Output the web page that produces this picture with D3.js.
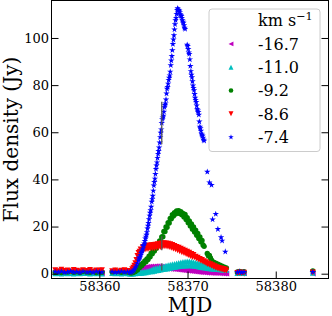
<!DOCTYPE html>
<html>
<head>
<meta charset="utf-8">
<script src="https://cdn.jsdelivr.net/npm/d3@7"></script>
<style>
  body { margin: 0; background: #fff; }
  text { font-family: "DejaVu Serif", serif; fill: #000; }
</style>
</head>
<body>
<div id="chart"></div>
<script>
// ---------------- datos ----------------
// epocas de observacion (MJD), comunes a todos los canales
const mjd = [
  58355.00, 58355.35, 58355.70, 58356.05, 58356.40, 58356.75, 58357.10, 58357.45, 58357.80, 58358.15,
  58358.60, 58358.95, 58359.30, 58359.65, 58360.00, 58360.30,
  58361.45, 58361.80, 58362.15, 58362.50, 58362.85, 58363.20, 58363.45,
  58363.60, 58363.72, 58363.84, 58363.96, 58364.08, 58364.20, 58364.32, 58364.44, 58364.56, 58364.68,
  58364.80, 58364.92, 58365.04, 58365.16, 58365.28, 58365.40, 58365.52, 58365.64, 58365.76, 58365.88,
  58366.00, 58366.12, 58366.24, 58366.36, 58366.48, 58366.60, 58366.72, 58366.84, 58366.96, 58367.08,
  58367.20, 58367.32, 58367.44, 58367.56, 58367.68, 58367.80, 58367.92, 58368.04, 58368.16, 58368.28,
  58368.40, 58368.52, 58368.64, 58368.76, 58368.88, 58369.00, 58369.12, 58369.24, 58369.36, 58369.48,
  58369.60, 58369.72, 58369.84, 58369.96, 58370.08, 58370.20, 58370.32, 58370.44, 58370.56, 58370.68,
  58370.80, 58370.92, 58371.04, 58371.16, 58371.28, 58371.40, 58371.52, 58371.64, 58371.76, 58371.88,
  58372.00, 58372.12, 58372.24, 58372.36, 58372.48, 58372.60, 58372.72, 58372.84, 58372.96, 58373.08,
  58373.20, 58373.32, 58373.44, 58373.56, 58373.68, 58373.80, 58373.92, 58374.04, 58374.16, 58374.28,
  58374.40,
  58375.65, 58375.90, 58376.15, 58376.40, 58384.20
];

// flujo (Jy) por canal de velocidad
const flux_m167 = [
  0.4, 0.2, 0.5, 0.3, 0.6, 0.2, 0.4, 0.3, 0.5, 0.2,
  0.4, 0.3, 0.5, 0.2, 0.4, 0.3,
  0.5, 0.3, 0.6, 0.4, 0.5, 0.3, 0.4,
  0.3, 0.6, 0.9, 1.3, 1.1, 1.6, 1.4, 1.9, 1.7, 2.2,
  1.9, 2.5, 2.1, 2.7, 2.2, 2.9, 2.3, 3.0, 2.4, 3.1,
  2.5, 3.1, 2.5, 3.2, 2.6, 3.2, 2.5, 3.1, 2.5, 3.0,
  2.4, 2.9, 2.3, 2.8, 2.2, 2.7, 2.1, 2.5, 2.0, 2.4,
  1.9, 2.3, 1.8, 2.2, 1.7, 2.1, 1.6, 2.0, 1.5, 1.9,
  1.4, 1.8, 1.3, 1.7, 1.2, 1.6, 1.1, 1.5, 1.0, 1.4,
  0.9, 1.3, 0.8, 1.2, 0.7, 1.1, 0.6, 1.0, 0.6, 0.9,
  0.5, 0.9, 0.4, 0.8, 0.4, 0.8, 0.3, 0.7, 0.3, 0.7,
  0.2, 0.6, 0.2, 0.6, 0.1, 0.5, 0.1, 0.5, 0.0, 0.4,
  0.0,
  0.1, 0.2, 0.0, 0.1, 0.0
];
const flux_m110 = [
  0.1, 0.3, 0.0, 0.2, 0.1, 0.3, 0.0, 0.2, 0.1, 0.3,
  0.2, 0.0, 0.3, 0.1, 0.2, 0.0,
  0.2, 0.1, 0.3, 0.0, 0.2, 0.1, 0.0,
  0.0, 0.1, 0.0, 0.2, 0.1, 0.3, 0.2, 0.4, 0.3, 0.5,
  0.4, 0.7, 0.5, 0.9, 0.6, 1.1, 0.8, 1.3, 1.0, 1.6,
  1.0, 2.0, 1.2, 2.3, 1.4, 2.5, 1.5, 2.7, 1.7, 2.9,
  1.9, 3.1, 2.1, 3.4, 2.2, 3.6, 2.4, 3.8, 2.6, 4.0,
  2.8, 4.2, 2.9, 4.4, 3.1, 4.6, 3.2, 4.8, 3.3, 5.0,
  3.4, 5.1, 3.4, 5.2, 3.5, 5.2, 3.5, 5.1, 3.4, 4.9,
  3.3, 4.7, 3.2, 4.5, 3.0, 4.3, 2.8, 4.1, 2.7, 3.9,
  2.6, 3.7, 2.4, 3.6, 2.3, 3.4, 2.2, 3.3, 2.1, 3.2,
  2.0, 3.1, 1.9, 3.0, 1.8, 2.9, 1.7, 2.8, 1.6, 2.7,
  1.6,
  0.3, 0.4, 0.2, 0.3, 0.4
];
const flux_m92 = [
  0.6, 0.9, 0.5, 0.8, 0.7, 1.0, 0.6, 0.8, 0.5, 0.9,
  0.7, 0.6, 0.9, 0.5, 0.8, 0.6,
  0.8, 1.4, 0.9, 0.6, 0.8, 0.7, 0.5,
  0.3, 0.5, 0.5, 0.9, 0.9, 1.6, 1.6, 2.6, 2.6, 3.6,
  3.4, 4.5, 4.3, 5.4, 5.1, 6.3, 6.0, 7.4, 7.2, 8.7,
  8.5, 9.9, 9.6, 11.2, 10.8, 12.4, 12.1, 13.9, 13.7, 15.6,
  15.7, 17.9, 17.9, 19.8, 19.7, 21.6, 21.5, 23.4, 23.3, 25.0,
  24.5, 25.9, 25.3, 26.6, 25.8, 26.7, 25.5, 26.3, 25.0, 25.6,
  24.1, 25.1, 23.0, 23.8, 21.6, 22.4, 20.2, 21.1, 18.9, 19.8,
  17.7, 18.5, 16.3, 17.1, 14.9, 15.6, 13.5, 14.1, 12.2, 11.6,
  null, null, 8.6, 7.6, 7.7, 6.7, 5.7, 4.8, 4.9, 4.1,
  4.4, 3.7, 4.0, 3.3, 3.6, 2.9, 3.2, 2.5, 2.8, 2.2,
  2.4,
  0.7, 0.9, 0.6, 0.8, 1.2
];
const flux_m86 = [
  1.5, 1.1, 1.7, 1.2, 1.4, 1.0, 1.6, 1.3, 1.1, 1.5,
  1.2, 1.6, 1.0, 1.4, 1.3, 1.5,
  1.1, 1.4, 1.0, 1.3, 1.5, 1.2, 1.0,
  1.1, 1.9, 2.6, 3.4, 4.5, 5.9, 7.6, 8.8, 9.4, 10.3,
  9.6, 11.3, 10.0, 11.6, 10.3, 11.8, 10.4, 12.0, 10.6, 12.1,
  10.7, 12.2, 10.8, 12.3, 11.0, 12.5, 11.2, 12.7, 11.3, 12.9,
  11.5, 13.0, 11.6, 12.9, 11.5, 12.7, 11.3, 12.5, 11.0, 12.2,
  10.6, 11.8, 10.3, 11.4, 9.9, 11.1, 9.5, 10.6, 9.1, 10.2,
  8.7, 9.8, 8.3, 9.3, 7.9, 8.9, 7.5, 8.4, 7.0, 8.0,
  6.9, 7.2, 6.4, 6.8, 6.0, 6.3, 5.5, 5.8, 5.0, 5.3,
  4.6, 4.9, 4.1, 4.4, 3.7, 4.0, 3.3, 3.6, 2.9, 3.2,
  2.5, 2.8, 2.2, 2.5, 1.9, 2.2, 1.7, 2.0, 1.4, 1.8,
  1.3,
  0.3, 0.5, 0.2, 0.4, 0.5
];
const flux_m74 = [
  0.8, 0.6, 0.9, 0.5, 0.7, 1.0, 0.6, 0.8, 0.5, 0.9,
  0.6, 0.8, 0.5, 0.9, 0.7, 0.6,
  0.8, 0.5, 0.7, 0.9, 0.6, 0.8, 0.5,
  0.6, 0.9, 1.2, 1.8, 2.6, 3.5, 4.4, 5.6, 6.8, 7.9,
  9.3, 10.6, 12.1, 13.8, 15.7, 17.6, 20.3, 23.1, 25.8, 28.4,
  31.6, 35.2, 38.9, 42.3, 45.9, 49.1, 52.0, 55.6, 59.8, 63.9,
  66.2, 68.7, 71.5, 73.9, 78.4, 80.6, 83.1, 85.7, 90.4, 94.8,
  99.3, 103.6, 107.5, 110.2, 112.6, 111.8, 110.9, 109.6, 108.5, 106.9,
  105.4, 103.8, null, 97.1, 95.3, 93.2, 88.1, 84.4, 81.6, 78.8,
  76.2, 73.7, 71.3, 69.2, 67.4, 62.3, 60.6, 58.9, 57.6, 56.4,
  null, null, 43.2, null, 38.7, null, 37.6, 23.0, null, null,
  25.3, null, 18.9, null, null, 15.4, 14.0, null, null, 9.3,
  null,
  0.6, 0.8, 0.5, 0.7, 0.7
];

// el canal -7.4 tiene epocas extra durante el maximo
const mjd_fast = [
  58364.50, 58364.62, 58364.74, 58364.86, 58364.98, 58365.10, 58365.22, 58365.34, 58365.46, 58365.58,
  58365.70, 58365.82, 58365.94, 58366.06, 58366.18, 58366.30, 58366.42, 58366.54, 58366.66, 58366.78,
  58366.90, 58367.02, 58367.14, 58367.26, 58367.38, 58367.50, 58367.62, 58367.74, 58367.86, 58367.98,
  58368.10, 58368.22, 58368.34, 58368.46, 58368.58, 58368.70, 58368.82, 58368.94, 58369.06, 58369.18,
  58369.30, 58369.42, 58369.54, 58369.66,
  58370.02, 58370.14, 58370.26, 58370.38, 58370.50, 58370.62, 58370.74, 58370.86, 58370.98, 58371.10,
  58371.22, 58371.34, 58371.46, 58371.58, 58371.70, 58371.82
];
const flux_m74_fast = [
  6.4, 7.2, 8.8, 9.8, 11.7, 12.8, 14.9, 16.5, 19.1, 21.5,
  24.6, 26.9, 30.5, 33.0, 37.4, 40.3, 44.4, 47.2, 50.8, 53.5,
  57.9, 61.2, 65.5, 67.0, 70.6, 72.2, 76.4, 79.2, 82.2, 84.1,
  88.4, 92.3, 97.4, 101.1, 105.8, 108.5, 111.9, 112.0, 111.5, 110.0,
  109.3, 107.5, 106.4, 104.3,
  96.6, 93.8, 90.9, 85.9, 83.3, 79.8, 77.8, 74.6, 72.8, 69.9,
  68.6, 64.5, 61.7, 59.4, 58.5, 56.8
];

const labels  = ["-16.7", "-11.0", "-9.2", "-8.6", "-7.4"];
const colores = ["#bf00bf", "#00bfbf", "#008000", "#ff0000", "#0000ff"];
const formas  = ["left", "up", "circle", "down", "star"];
const series  = [flux_m167, flux_m110, flux_m92, flux_m86, flux_m74];

// barras de error de una epoca
const errEpoch  = 58367.08;
const errSeries = [1, 3, 4];      // indices en series
const errSize   = [1.5, 3.0, 9.0];

const xTicks = [58360, 58370, 58380];
const yTicks = [0, 20, 40, 60, 80, 100];

// ---------------- grafico ----------------
const WIDTH = 332, HEIGHT = 316;
const plot = {left: 51.5, right: 328.5, top: 0.5, bottom: 278.5};

const svg = d3.select("#chart").append("svg")
    .attr("width", WIDTH)
    .attr("height", HEIGHT);

const x = d3.scaleLinear().domain([58354.58, 58385.98]).range([plot.left, plot.right]);
const y = d3.scaleLinear().domain([-2.04, 115.9]).range([plot.bottom, plot.top]);

function marker(forma, s) {
    if (forma == "left")   return `M${-s},0L${s},${-s}L${s},${s}Z`;
    if (forma == "up")     return `M0,${-s}L${s},${s}L${-s},${s}Z`;
    if (forma == "down")   return `M0,${s}L${s},${-s}L${-s},${-s}Z`;
    if (forma == "circle") return d3.symbol(d3.symbolCircle, Math.PI * s * s)();
    return d3.symbol(d3.symbolStar, s * s / 0.8908130915292852)();
}
const tam = {left: 2.9, up: 2.9, down: 2.9, circle: 2.7, star: 3.4};

svg.append("clipPath").attr("id", "clip")
  .append("rect")
    .attr("x", plot.left).attr("y", plot.top)
    .attr("width", plot.right - plot.left)
    .attr("height", plot.bottom - plot.top);

const g = svg.append("g").attr("clip-path", "url(#clip)");

series.forEach((vals, i) => {
    let pts = mjd.map((t, k) => [t, vals[k]]);
    if (i == 4) pts = pts.concat(mjd_fast.map((t, k) => [t, flux_m74_fast[k]]));
    pts = pts.filter(d => d[1] != null);
    const path = marker(formas[i], tam[formas[i]]);
    g.append("g").selectAll("path")
        .data(pts)
      .enter().append("path")
        .attr("d", path)
        .attr("transform", d => "translate(" + x(d[0]) + "," + y(d[1]) + ")")
        .style("fill", colores[i]);
});

// barras de error
const k0 = mjd.indexOf(errEpoch);
errSeries.forEach((si, j) => {
    const v = series[si][k0];
    g.append("line")
        .attr("x1", x(errEpoch)).attr("x2", x(errEpoch))
        .attr("y1", y(v - errSize[j])).attr("y2", y(v + errSize[j]))
        .style("stroke", "#555")
        .style("stroke-width", 1.3);
});

// ejes
const xAxis = svg.append("g")
    .attr("transform", "translate(0," + plot.bottom + ")")
    .call(d3.axisBottom(x).tickValues(xTicks).tickFormat(d3.format("d"))
        .tickSizeInner(-7).tickSizeOuter(0).tickPadding(3));
const yAxis = svg.append("g")
    .attr("transform", "translate(" + plot.left + ",0)")
    .call(d3.axisLeft(y).tickValues(yTicks).tickFormat(d3.format("d"))
        .tickSizeInner(-7).tickSizeOuter(0).tickPadding(2.5));
const yAxisR = svg.append("g")
    .attr("transform", "translate(" + plot.right + ",0)")
    .call(d3.axisRight(y).tickValues(yTicks).tickFormat("")
        .tickSizeInner(-7).tickSizeOuter(0));

[xAxis, yAxis, yAxisR].forEach(a => {
    a.select(".domain").remove();
    a.selectAll("line").style("stroke", "#000").style("stroke-width", 1);
    a.selectAll("text").style("font-family", "DejaVu Serif").style("font-size", "13px").style("fill", "#000");
});

svg.append("rect")
    .attr("x", plot.left).attr("y", plot.top)
    .attr("width", plot.right - plot.left)
    .attr("height", plot.bottom - plot.top)
    .style("fill", "none")
    .style("stroke", "#000")
    .style("stroke-width", 1);

svg.append("text")
    .attr("x", (plot.left + plot.right) / 2)
    .attr("y", 312)
    .style("text-anchor", "middle")
    .style("font-size", "20px")
    .text("MJD");

svg.append("text")
    .attr("transform", "translate(18," + (plot.top + plot.bottom) / 2 + ") rotate(-90)")
    .style("text-anchor", "middle")
    .style("font-size", "20px")
    .text("Flux density (Jy)");

// leyenda
const leg = svg.append("g");
leg.append("rect")
    .attr("x", 209).attr("y", 9)
    .attr("width", 111).attr("height", 142.5)
    .attr("rx", 3)
    .style("fill", "#fff").style("fill-opacity", 0.8)
    .style("stroke", "#ccc").style("stroke-width", 1);

const row0 = 20.6, rowStep = 23.3;
const head = leg.append("text")
    .attr("x", 258).attr("y", row0).attr("dy", "0.365em")
    .style("font-size", "16px");
head.append("tspan").text("km s");
head.append("tspan").attr("dy", -6.5).style("font-size", "11.2px").text("\u22121");

labels.forEach((lab, i) => {
    const cy = row0 + rowStep * (i + 1);
    leg.append("path")
        .attr("d", marker(formas[i], tam[formas[i]] * 0.85))
        .attr("transform", "translate(231," + cy + ")")
        .style("fill", colores[i]);
    leg.append("text")
        .attr("x", 258).attr("y", cy).attr("dy", "0.365em")
        .style("font-size", "16px")
        .text(lab);
});
</script>
</body>
</html>
